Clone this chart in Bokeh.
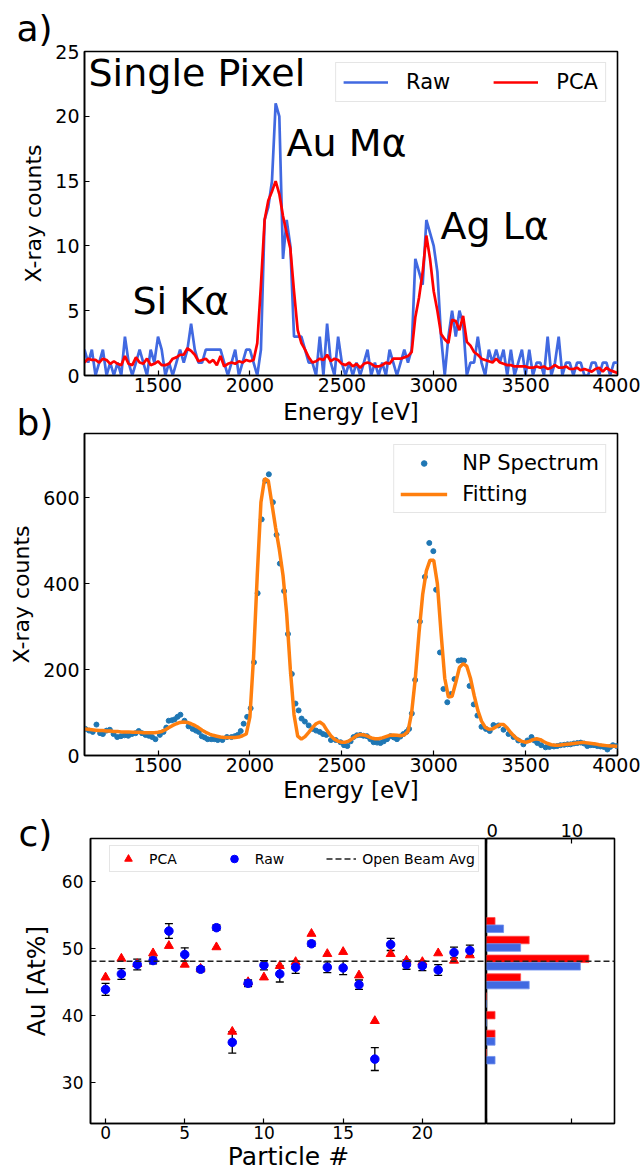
import numpy as np
from bokeh.plotting import figure
from bokeh.models import (Range1d, Label, ColumnDataSource, Whisker, TeeHead, LinearAxis, Title)
from bokeh.layouts import column, row
from bokeh.embed import file_html
from bokeh.resources import INLINE

FONT = "DejaVu Sans"

# ------------------------------------------------------------------ data
# (a) single pixel spectrum, 20 eV channels from 1100 to 4000 eV
E_A = list(range(1100, 4001, 20))
RAW_A = [2, 1, 2, 0, 1, 2, 0, 1, 0, 1,
         0, 3, 1, 0, 1, 2, 1, 0, 2, 1,
         3, 2, 0, 1, 0, 1, 2, 1, 2, 4,
         2, 1, 1, 2, 2, 2, 2, 2, 1, 0,
         1, 2, 0, 1, 2, 2, 1, 0, 2, 12,
         13, 15, 21, 20, 9, 12, 10, 3, 3, 3,
         2, 1, 1, 0, 3, 0, 4, 1, 0, 3,
         1, 0, 1, 0, 1, 0, 1, 2, 0, 1,
         0, 1, 0, 2, 1, 0, 1, 2, 1, 2,
         9, 8, 7, 12, 11, 10, 8, 3, 0, 3,
         5, 3, 5, 4, 0, 1, 1, 3, 1, 0,
         2, 1, 2, 1, 2, 0, 2, 0, 1, 2,
         0, 2, 0, 1, 1, 0, 3, 0, 1, 3,
         0, 1, 1, 0, 1, 1, 0, 0, 1, 1,
         0, 1, 1, 0, 1, 1]
PCA_A = [1.0, 1.3, 1.2, 1.2, 1.0, 1.3, 1.2, 0.9, 1.1, 0.9,
         0.8, 1.5, 0.9, 0.8, 1.4, 1.0, 0.9, 1.3, 0.8, 0.9,
         1.1, 0.8, 0.8, 0.9, 1.3, 1.4, 1.6, 1.6, 2.1, 1.9,
         1.6, 1.1, 1.2, 1.3, 1.0, 1.2, 0.8, 1.5, 0.7, 0.9,
         1.0, 0.9, 1.1, 1.0, 1.2, 1.1, 1.2, 2.5, 7.0, 12.0,
         13.5, 14.2, 15.0, 14.0, 12.3, 11.0, 9.8, 6.5, 3.5, 2.5,
         2.0, 1.4, 1.0, 1.1, 1.3, 1.2, 1.6, 1.1, 1.3, 1.2,
         0.9, 0.8, 1.0, 0.7, 0.9, 0.6, 0.9, 1.0, 0.9, 0.7,
         0.7, 0.8, 1.0, 0.9, 1.3, 1.3, 1.3, 1.4, 1.5, 1.8,
         4.5, 6.0, 8.0, 10.8, 9.0, 6.5, 5.0, 3.2, 2.8, 2.5,
         4.3, 4.2, 3.5, 4.6, 2.6, 2.3, 1.8, 1.6, 1.3, 1.2,
         1.1, 1.0, 1.3, 1.0, 0.9, 0.8, 0.8, 0.7, 0.7, 0.7,
         0.7, 0.6, 0.6, 0.7, 0.6, 0.7, 0.5, 0.6, 0.8, 0.6,
         0.6, 0.7, 0.5, 0.5, 0.6, 0.4, 0.5, 0.4, 0.3, 0.5,
         0.6, 0.3, 0.6, 0.4, 0.3, 0.2]
A_XTICKS = [1500, 2000, 2500, 3000, 3500, 4000]
A_YTICKS = [0, 5, 10, 15, 20, 25]

# (b) nanoparticle spectrum and fit
NP_E = [1105, 1125, 1145, 1165, 1185, 1200, 1220, 1238, 1258, 1278,
        1298, 1318, 1338, 1358, 1378, 1395, 1413, 1432, 1450, 1468,
        1486, 1510, 1530, 1545, 1558, 1575, 1590, 1606, 1622, 1644,
        1666, 1688, 1706, 1722, 1738, 1754, 1770, 1790, 1808, 1825,
        1850, 1875, 1900, 1918, 1934, 1950, 1966, 1985, 2004, 2022,
        2042, 2064, 2084, 2103, 2125, 2145, 2163, 2186, 2207, 2228,
        2248, 2265, 2281, 2299, 2320, 2342, 2360, 2380, 2398, 2416,
        2441, 2467, 2493, 2512, 2530, 2548, 2564, 2582, 2600, 2618,
        2637, 2655, 2673, 2692, 2710, 2728, 2746, 2765, 2783, 2800,
        2818, 2835, 2852, 2866, 2881, 2899, 2925, 2952, 2976, 2998,
        3013, 3034, 3053, 3074, 3094, 3113, 3135, 3150, 3165, 3195,
        3218, 3238, 3260, 3284, 3305, 3325, 3352, 3380, 3407, 3434,
        3460, 3488, 3510, 3532, 3548, 3564, 3585, 3609, 3630, 3654,
        3672, 3690, 3710, 3728, 3745, 3763, 3781, 3800, 3818, 3836,
        3854, 3872, 3890, 3908, 3926, 3945, 3960, 3975, 3995]
NP_COUNTS = [62, 58, 55, 72, 52, 50, 58, 60, 50, 43,
             45, 47, 46, 50, 52, 57, 52, 48, 46, 43,
             38, 48, 55, 65, 81, 82, 84, 90, 95, 81,
             68, 62, 58, 55, 45, 42, 38, 38, 38, 36,
             36, 43, 43, 45, 48, 57, 74, 90, 110, 217,
             378, 550, 640, 655, 590, 514, 447, 383, 283, 190,
             121, 105, 86, 79, 70, 62, 58, 55, 50, 48,
             36, 36, 31, 24, 22, 33, 43, 47, 48, 46,
             45, 38, 31, 30, 29, 33, 38, 45, 42, 38,
             44, 50, 55, 62, 98, 176, 312, 416, 495, 476,
             386, 240, 155, 124, 143, 178, 221, 222, 221, 162,
             119, 93, 67, 62, 57, 71, 70, 60, 50, 43,
             35, 26, 35, 43, 35, 29, 24, 19, 20, 21,
             22, 24, 25, 26, 26, 28, 29, 30, 28, 22,
             24, 24, 22, 21, 20, 14, 20, 24, 22]
FIT_E = list(range(1100, 4001, 20))
FIT_COUNTS = [62, 61, 60, 59, 58, 58, 57, 57, 56, 56,
              55, 55, 55, 54, 54, 54, 53, 53, 53, 53,
              54, 56, 60, 65, 70, 74, 77, 78, 77, 74,
              70, 65, 59, 54, 50, 47, 45, 43, 42, 42,
              42, 42, 43, 46, 50, 90, 230, 420, 590, 645,
              640, 585, 530, 480, 420, 330, 200, 95, 45, 38,
              44, 54, 65, 74, 78, 72, 58, 46, 38, 33,
              31, 31, 34, 40, 46, 49, 48, 45, 41, 39,
              39, 41, 44, 47, 48, 47, 46, 48, 56, 100,
              180, 285, 375, 430, 455, 455, 400, 285, 180, 136,
              138, 170, 205, 214, 208, 180, 140, 105, 80, 66,
              61, 62, 67, 72, 72, 64, 53, 44, 37, 33,
              31, 33, 37, 39, 37, 32, 28, 25, 24, 24,
              25, 26, 27, 28, 29, 30, 30, 29, 28, 27,
              25, 24, 23, 22, 22, 21]
B_YTICKS = [0, 200, 400, 600]

# (c) Au composition per particle
PARTICLES = list(range(24))
PCA_AU = [45.7, 48.5, 47.7, 49.3, 50.4, 47.6, 47.0, 50.2, 37.6, 45.0, 45.7, 47.4,
          48.0, 52.2, 49.2, 49.5, 46.0, 39.2, 49.2, 48.2, 48.0, 49.3, 48.2, 49.0]
RAW_AU = [43.9, 46.2, 47.6, 48.2, 52.6, 49.1, 46.9, 53.1, 36.0, 44.8, 47.5, 46.2,
          47.2, 50.7, 47.2, 47.1, 44.6, 33.5, 50.6, 47.6, 47.4, 46.8, 49.4, 49.7]
RAW_AU_ERR = [0.9, 0.8, 0.8, 0.5, 1.1, 1.0, 0.4, 0.4, 1.6, 0.5, 0.7, 1.2,
              0.9, 0.4, 0.8, 1.0, 0.7, 1.7, 0.9, 0.7, 0.7, 0.8, 0.8, 0.8]
OPEN_BEAM_AVG = 48.1
C_XTICKS = [0, 5, 10, 15, 20]
C_YTICKS = [30, 40, 50, 60]
HIST_CENTERS = [33.9, 36.7, 39.5, 42.3, 45.1, 47.9, 50.7, 53.5]
HIST_PCA = [0, 1, 1, 0, 4, 12, 5, 1]
HIST_RAW = [1, 1, 0, 0, 5, 11, 4, 2]
H_XTICKS = [0, 10]

# ------------------------------------------------------------------ geometry (page px)
A_LEFT, A_W, A_TOP, A_H = 84, 533, 51, 324
A_BOT_BORDER = 25
B_TOP, B_H, B_BOT_BORDER = 433, 322, 52
C_LEFT, C_W, C_TOP, C_H, H_W = 90, 396, 838, 285, 128
TOTAL_W = 640
OV_H = 880            # height of the transparent text overlay
BASE_SHIFT = 0.39     # Label baseline correction (em)

XR = (1100, 4000)
YR_A = (0, 25)
YR_B = (0, 750)
XR_C = (-0.95, 24.05)
YR_C = (23.9, 66.4)
XR_H = (0, 15)


def dx(rng, left, w, px):
    return rng[0] + (px - left) / w * (rng[1] - rng[0])


def dy(rng, top, h, py):
    return rng[0] + (top + h - py) / h * (rng[1] - rng[0])


def style_axis(ax, tick_fs, label_fs, tick_standoff, label_standoff):
    ax.major_label_text_font = FONT
    ax.major_label_text_font_size = f"{tick_fs}px"
    ax.major_label_text_color = "black"
    ax.axis_label_text_font = FONT
    ax.axis_label_text_font_size = f"{label_fs}px"
    ax.axis_label_text_font_style = "normal"
    ax.axis_label_text_color = "black"
    ax.major_tick_in = 5
    ax.major_tick_out = 0
    ax.major_tick_line_color = "black"
    ax.major_tick_line_width = 1.2
    ax.minor_tick_line_color = None
    ax.axis_line_color = "black"
    ax.axis_line_width = 1.5
    ax.major_label_standoff = tick_standoff
    ax.axis_label_standoff = label_standoff


def base_fig(**kw):
    p = figure(output_backend="svg", toolbar_location=None, **kw)
    p.outline_line_color = "black"
    p.outline_line_width = 1.6
    p.outline_line_alpha = 1.0
    p.grid.visible = False
    p.background_fill_color = "white"
    p.border_fill_color = "white"
    return p


def style_legend(lg, fs, gw, gh, standoff, spacing, padding):
    lg.label_text_font = FONT
    lg.label_text_font_size = f"{fs}px"
    lg.label_text_color = "black"
    lg.glyph_width = gw
    lg.glyph_height = gh
    lg.label_standoff = standoff
    lg.spacing = spacing
    lg.padding = padding
    lg.border_line_color = "#cccccc"
    lg.border_line_width = 1
    lg.background_fill_alpha = 0.85


# ------------------------------------------------------------------ panel a
pa = base_fig(frame_width=A_W, frame_height=A_H,
              x_range=Range1d(*XR), y_range=Range1d(*YR_A),
              min_border_left=A_LEFT, min_border_top=A_TOP,
              min_border_right=TOTAL_W - A_LEFT - A_W,
              min_border_bottom=A_BOT_BORDER)
pa.line(E_A, RAW_A, line_color="#4169e1", line_width=2.7, legend_label="Raw")
pa.line(E_A, PCA_A, line_color="#ff0000", line_width=2.7, legend_label="PCA")
pa.xaxis.ticker = A_XTICKS
pa.yaxis.ticker = A_YTICKS
pa.yaxis.axis_label = "X-ray counts"
style_axis(pa.xaxis[0], 19, 23, 2, 2)
style_axis(pa.yaxis[0], 19, 22, 5, 6)
pa.legend.orientation = "horizontal"
pa.legend.location = "top_right"
pa.legend.margin = 11
style_legend(pa.legend[0], 21, 45, 20, 18, 43, 7)

for txt, px, py in [("Single Pixel", 88, 87), ("Au Mα", 286, 157),
                    ("Ag Lα", 440, 240), ("Si Kα", 132, 315)]:
    pa.add_layout(Label(x=dx(XR, A_LEFT, A_W, px),
                        y=dy(YR_A, A_TOP, A_H, py - BASE_SHIFT * 38), text=txt,
                        text_font=FONT, text_font_size="38px", text_color="black",
                        text_align="left", text_baseline="alphabetic"))
# panel letter a) as a title above the frame
pa.add_layout(Title(text="a)", align="left", offset=16 - A_LEFT, standoff=6,
                    text_font=FONT, text_font_size="36px", text_font_style="normal",
                    text_color="black"), "above")

# ------------------------------------------------------------------ panel b
pb = base_fig(frame_width=A_W, frame_height=B_H,
              x_range=Range1d(*XR), y_range=Range1d(*YR_B),
              min_border_left=A_LEFT,
              min_border_top=B_TOP - (A_TOP + A_H + A_BOT_BORDER),
              min_border_right=TOTAL_W - A_LEFT - A_W,
              min_border_bottom=B_BOT_BORDER)
pb.scatter(NP_E, NP_COUNTS, size=5, color="#1f77b4", legend_label="NP Spectrum")
pb.line(FIT_E, FIT_COUNTS, line_color="#ff7f0e", line_width=3.5, legend_label="Fitting")
pb.xaxis.ticker = A_XTICKS
pb.yaxis.ticker = B_YTICKS
pb.xaxis.axis_label = "Energy [eV]"
pb.yaxis.axis_label = "X-ray counts"
style_axis(pb.xaxis[0], 19, 23, 2, 2)
style_axis(pb.yaxis[0], 19, 22, 5, 6)
pb.legend.location = "top_right"
pb.legend.margin = 11
style_legend(pb.legend[0], 21, 47, 14, 15, 7, 6)

# ------------------------------------------------------------------ panel c
yr_c = Range1d(*YR_C)
c_top_border = C_TOP - (B_TOP + B_H + B_BOT_BORDER)
pc = base_fig(frame_width=C_W, frame_height=C_H,
              x_range=Range1d(*XR_C), y_range=yr_c,
              min_border_left=C_LEFT, min_border_right=0,
              min_border_top=c_top_border, min_border_bottom=44)
pc.scatter(PARTICLES, PCA_AU, marker="triangle", size=9, color="#ff0000", legend_label="PCA")
src = ColumnDataSource(dict(x=PARTICLES,
                            upper=[v + e for v, e in zip(RAW_AU, RAW_AU_ERR)],
                            lower=[v - e for v, e in zip(RAW_AU, RAW_AU_ERR)]))
pc.add_layout(Whisker(base="x", upper="upper", lower="lower", source=src, dimension="height",
                      line_color="black", line_width=1.3,
                      upper_head=TeeHead(size=8, line_color="black", line_width=1.3),
                      lower_head=TeeHead(size=8, line_color="black", line_width=1.3)))
pc.scatter(PARTICLES, RAW_AU, marker="circle", size=8.5, color="#0000ff", legend_label="Raw")
pc.line([XR_C[0], XR_C[1]], [OPEN_BEAM_AVG, OPEN_BEAM_AVG], line_color="#222222",
        line_width=1.6, line_dash="6 3", legend_label="Open Beam Avg")
pc.xaxis.ticker = C_XTICKS
pc.yaxis.ticker = C_YTICKS
pc.xaxis.axis_label = "Particle #"
pc.yaxis.axis_label = "Au [At%]"
style_axis(pc.xaxis[0], 17, 25, 2, 0)
style_axis(pc.yaxis[0], 17, 25, 7, 8)
pc.legend.orientation = "horizontal"
pc.legend.location = (19, C_H - 9 - 25)
style_legend(pc.legend[0], 14, 30, 19, 6, 42, 3)

# histogram
ph = base_fig(frame_width=H_W, frame_height=C_H,
              x_range=Range1d(*XR_H), y_range=yr_c,
              x_axis_location="above", y_axis_location=None,
              min_border_left=0, min_border_right=TOTAL_W - C_LEFT - C_W - H_W,
              min_border_top=c_top_border, min_border_bottom=44)
bw = HIST_CENTERS[1] - HIST_CENTERS[0]
ph.hbar(y=[c + 0.2 * bw for c in HIST_CENTERS], left=0, right=HIST_PCA, height=0.4 * bw,
        fill_color="#ff0000", line_color="#ff4d4d", line_width=0.8)
ph.hbar(y=[c - 0.2 * bw for c in HIST_CENTERS], left=0, right=HIST_RAW, height=0.4 * bw,
        fill_color="#4169e1", line_color="#7090ee", line_width=0.8)
ph.line([XR_H[0], XR_H[1]], [OPEN_BEAM_AVG, OPEN_BEAM_AVG], line_color="#222222",
        line_width=1.6, line_dash="6 3")
ph.xaxis.ticker = H_XTICKS
style_axis(ph.xaxis[0], 18, 18, 2, 0)
bottom_ax = LinearAxis(ticker=H_XTICKS)
style_axis(bottom_ax, 18, 18, 2, 0)
bottom_ax.major_label_text_alpha = 0
ph.add_layout(bottom_ax, "below")

# ------------------------------------------------------------------ transparent text overlay
ov = figure(width=TOTAL_W, height=OV_H, x_range=Range1d(0, TOTAL_W), y_range=Range1d(OV_H, 0),
            output_backend="svg", toolbar_location=None, min_border=0,
            min_border_left=0, min_border_right=0, min_border_top=0, min_border_bottom=0,
            x_axis_location=None, y_axis_location=None)
ov.grid.visible = False
ov.outline_line_color = None
ov.background_fill_alpha = 0
ov.border_fill_alpha = 0


def ov_label(text, px, py_base, fs, align="left"):
    ov.add_layout(Label(x=px, y=py_base - BASE_SHIFT * fs, text=text, text_font=FONT,
                        text_font_size=f"{fs}px", text_color="black",
                        text_align=align, text_baseline="alphabetic"))


ov_label("Energy [eV]", A_LEFT + A_W / 2, 420, 23, "center")
ov_label("b)", 16, 436, 36)
ov_label("c)", 18, 847, 36)

ov_box = row(ov, styles={"position": "absolute", "top": "0px", "left": "0px",
                         "pointer-events": "none"})
layout = column(pa, pb, row(pc, ph), ov_box)
open("out.html", "w").write(file_html(layout, INLINE))
